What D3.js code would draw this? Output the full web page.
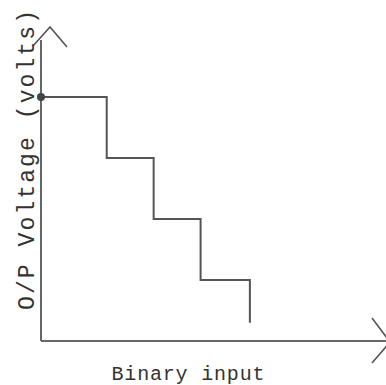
<!DOCTYPE html>
<html>
<head>
<meta charset="utf-8">
<script src="https://cdn.jsdelivr.net/npm/d3@7"></script>
<style>
html,body{margin:0;padding:0;background:#fff;}
svg{display:block;}
</style>
</head>
<body>
<script>
// Data
const stepEdges = [0, 1.4, 2.4, 3.4, 4.45];   // binary input (step boundaries)
const levels = [4, 3, 2, 1, 0.3];             // O/P voltage levels
const xLabel = "Binary input";
const yLabel = "O/P Voltage (volts)";

const W = 386, H = 385;
const svg = d3.select("body").append("svg").attr("width", W).attr("height", H);

const x = d3.scaleLinear().domain([0, 7.35]).range([41, 386]);
const y = d3.scaleLinear().domain([0, 5]).range([341, 36]);

const axisColor = "#666";
// y axis
svg.append("line").attr("x1", x(0)).attr("x2", x(0)).attr("y1", y(0)).attr("y2", y(5) + 4)
  .attr("stroke", axisColor).attr("stroke-width", 2);
// x axis
svg.append("line").attr("x1", x(0)).attr("x2", x(7.35)).attr("y1", y(0)).attr("y2", y(0))
  .attr("stroke", axisColor).attr("stroke-width", 2);

// top arrow "^"
svg.append("path")
  .attr("d", `M${x(0) - 8},${y(5) + 10} L${x(0) + 9},${y(5) - 9} L${x(0) + 26},${y(5) + 11}`)
  .attr("fill", "none").attr("stroke", "#555").attr("stroke-width", 1.6);
// right arrow ">"
svg.append("path")
  .attr("d", `M${x(7.35) - 14},${y(0) - 23} L${x(7.35) + 4},${y(0) + 1} L${x(7.35) - 14},${y(0) + 22}`)
  .attr("fill", "none").attr("stroke", "#555").attr("stroke-width", 1.6);

// staircase
const pts = stepEdges.map((e, i) => [e, levels[i]]);
const line = d3.line().x(d => x(d[0])).y(d => y(d[1])).curve(d3.curveStepAfter);
svg.append("path").attr("d", line(pts))
  .attr("fill", "none").attr("stroke", "#555").attr("stroke-width", 2);

// dot at start
svg.append("circle").attr("cx", x(stepEdges[0])).attr("cy", y(levels[0])).attr("r", 4).attr("fill", "#444");

// labels
svg.append("text").attr("x", 188).attr("y", 380)
  .attr("text-anchor", "middle")
  .attr("font-family", "'Liberation Mono', 'Courier New', monospace")
  .attr("font-size", 20).attr("fill", "#333")
  .attr("textLength", 153).attr("lengthAdjust", "spacing")
  .text(xLabel);

svg.append("text")
  .attr("transform", "translate(34,160) rotate(-90)")
  .attr("text-anchor", "middle")
  .attr("font-family", "'Liberation Mono', 'Courier New', monospace")
  .attr("font-size", 23).attr("fill", "#333")
  .attr("textLength", 300).attr("lengthAdjust", "spacing")
  .text(yLabel);
</script>
</body>
</html>
